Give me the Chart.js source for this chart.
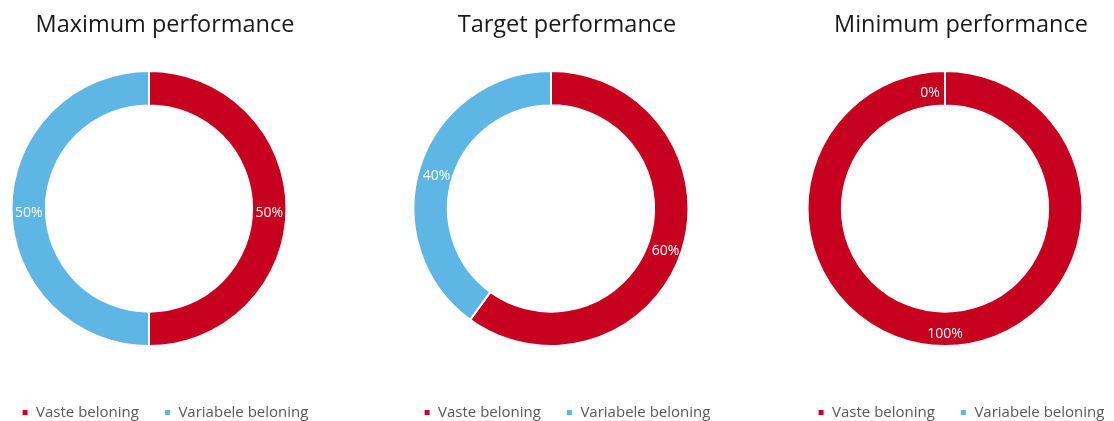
<!DOCTYPE html>
<html>
<head>
<meta charset="utf-8">
<script src="https://cdn.jsdelivr.net/npm/chart.js@4/dist/chart.umd.min.js"></script>
<style>
  html, body { margin: 0; padding: 0; background: #fff; overflow: hidden; width: 1114px; height: 421px; position: relative; }
  .box { position: absolute; top: 0; width: 360px; height: 430px; }
</style>
</head>
<body>
<div class="box" style="left:-15px"><canvas id="c1"></canvas></div>
<div class="box" style="left:387px"><canvas id="c2"></canvas></div>
<div class="box" style="left:781px"><canvas id="c3"></canvas></div>
<script>
// data
const categories = ['Vaste beloning', 'Variabele beloning'];
const titles = ['Maximum performance', 'Target performance', 'Minimum performance'];
const maxValues = [50, 50];
const targetValues = [60, 40];
const minValues = [100, 0];

const RED = '#C8001F';
const BLUE = '#5EB6E4';
const FONT = "'Open Sans', 'Noto Sans', sans-serif";

// narrow and shift the chart area so the ring sits left of the title/legend centre
const ringArea = {
  id: 'ringArea',
  afterLayout(chart, args, opts) {
    const a = chart.chartArea;
    const cx = (a.left + a.right) / 2 + opts.dx;
    a.left = cx - opts.half;
    a.right = cx + opts.half;
    a.width = opts.half * 2;
  }
};

// percentage labels on the slices
const sliceLabels = {
  id: 'sliceLabels',
  afterDatasetsDraw(chart) {
    const ctx = chart.ctx;
    const ds = chart.data.datasets[0];
    chart.getDatasetMeta(0).data.forEach((arc, i) => {
      const v = ds.data[i];
      const p = arc.tooltipPosition();
      ctx.save();
      ctx.font = "14px " + FONT;
      ctx.fillStyle = '#fff';
      ctx.textAlign = 'center';
      ctx.textBaseline = 'middle';
      ctx.fillText(v + '%', p.x - (v === 0 ? 15 : 0), p.y + 5);
      ctx.restore();
    });
  }
};

function makeChart(id, title, values) {
  new Chart(document.getElementById(id), {
    type: 'doughnut',
    data: {
      labels: categories,
      datasets: [{
        data: values,
        backgroundColor: [RED, BLUE],
        borderColor: '#fff',
        borderWidth: 2,
        hoverOffset: 0
      }]
    },
    plugins: [ringArea, sliceLabels],
    options: {
      responsive: true,
      maintainAspectRatio: false,
      animation: false,
      cutout: '75%',
      plugins: {
        ringArea: { dx: -16, half: 138.5 },
        title: {
          display: true,
          text: title,
          color: '#1a1a1a',
          font: { family: FONT, size: 23.5, weight: 'normal', lineHeight: 1 },
          padding: { top: 13.5, bottom: 0 }
        },
        legend: {
          position: 'bottom',
          labels: {
            color: '#595959',
            font: { family: FONT, size: 15 },
            boxWidth: 7,
            boxHeight: 7,
            padding: 25
          }
        },
        tooltip: { enabled: false }
      }
    }
  });
}

makeChart('c1', titles[0], maxValues);
makeChart('c2', titles[1], targetValues);
makeChart('c3', titles[2], minValues);
</script>
</body>
</html>
